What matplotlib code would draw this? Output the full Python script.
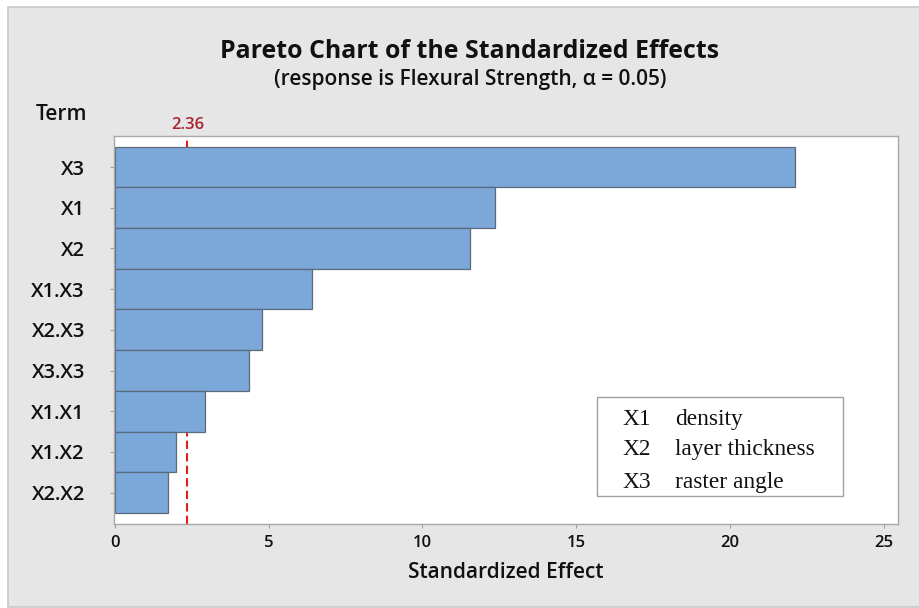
import matplotlib
matplotlib.use("Agg")
import matplotlib.pyplot as plt
from matplotlib.patches import Rectangle

terms = ["X3", "X1", "X2", "X1.X3", "X2.X3", "X3.X3", "X1.X1", "X1.X2", "X2.X2"]
effects = [22.1, 12.37, 11.53, 6.4, 4.8, 4.38, 2.93, 2.0, 1.72]
critical = 2.36
xticks = [0, 5, 10, 15, 20, 25]
legend_keys = ["X1", "X2", "X3"]
legend_names = ["density", "layer thickness", "raster angle"]

plt.rcParams['font.family'] = ['Open Sans', 'DejaVu Sans']
SW = 'semibold'

fig = plt.figure(figsize=(9.2, 6.08), dpi=100)
fig.patch.set_facecolor('white')
fig.patches.append(Rectangle((8/920, 1/608), 1 - 8/920, 1 - 8/608, transform=fig.transFigure,
                             facecolor='#e6e6e6', edgecolor='#c8c8c8', linewidth=1.2, zorder=-10))

ax = fig.add_axes([114/920, 84/608, 784/920, 388.3/608])
ax.set_facecolor('white')

n = len(terms)
ypos = list(range(n))
ax.axvline(critical, color='#e0201b', linestyle=(0, (4, 2)), linewidth=1.5, zorder=1)
ax.barh(ypos, effects, height=1.0, color='#7ba7d9', edgecolor='#5a6a7a', linewidth=0.9, zorder=2)

ax.set_ylim(n - 1 + 0.5 + 0.27, -0.5 - 0.27)
ax.set_xlim(-0.02, 25.45)
ax.set_yticks(ypos)
ax.set_yticklabels(terms, fontsize=14.5, color='#111111', fontweight=SW)
ax.set_xticks(xticks)
ax.set_xticklabels([str(t) for t in xticks], fontsize=12, color='#111111', fontweight=SW)
ax.tick_params(axis='y', length=3, color='#a0a0a0', pad=18)
ax.tick_params(axis='x', length=3, color='#a0a0a0', pad=5)
for s in ax.spines.values():
    s.set_color('#a8a8a8')
    s.set_linewidth(1.0)

ax.set_xlabel("Standardized Effect", fontsize=15, color='#111111', labelpad=8, fontweight=SW)

# critical value label
ax.text(critical, 1.006, f"{critical:.2f}", transform=ax.get_xaxis_transform(),
        ha='center', va='bottom', fontsize=12, color='#a8242b', fontweight=SW)

fig.text(62/920, 1 - 115/608, "Term", ha='center', va='center', fontsize=15, color='#111111', fontweight=SW)
fig.text(470/920, 1 - 51/608, "Pareto Chart of the Standardized Effects", ha='center', va='center',
         fontsize=17.9, fontweight='bold', color='#111111')
fig.text(470/920, 1 - 80/608, "(response is Flexural Strength, \u03b1 = 0.05)", ha='center', va='center',
         fontsize=15, color='#111111', fontweight=SW)

# legend box
ax.add_patch(Rectangle((0.616, 0.072), 0.314, 0.255, transform=ax.transAxes,
                       facecolor='white', edgecolor='#a0a0a0', linewidth=1.0, zorder=5))
rows_y = [0.268, 0.191, 0.108]
for k, nm, yy in zip(legend_keys, legend_names, rows_y):
    ax.text(0.649, yy, k, transform=ax.transAxes, ha='left', va='center', fontsize=16.8,
            family=['Liberation Serif'], color='#111111', zorder=6)
    ax.text(0.716, yy, nm, transform=ax.transAxes, ha='left', va='center', fontsize=16.8,
            family=['Liberation Serif'], color='#111111', zorder=6)

fig.savefig("out.png", dpi=100, facecolor=fig.get_facecolor())
